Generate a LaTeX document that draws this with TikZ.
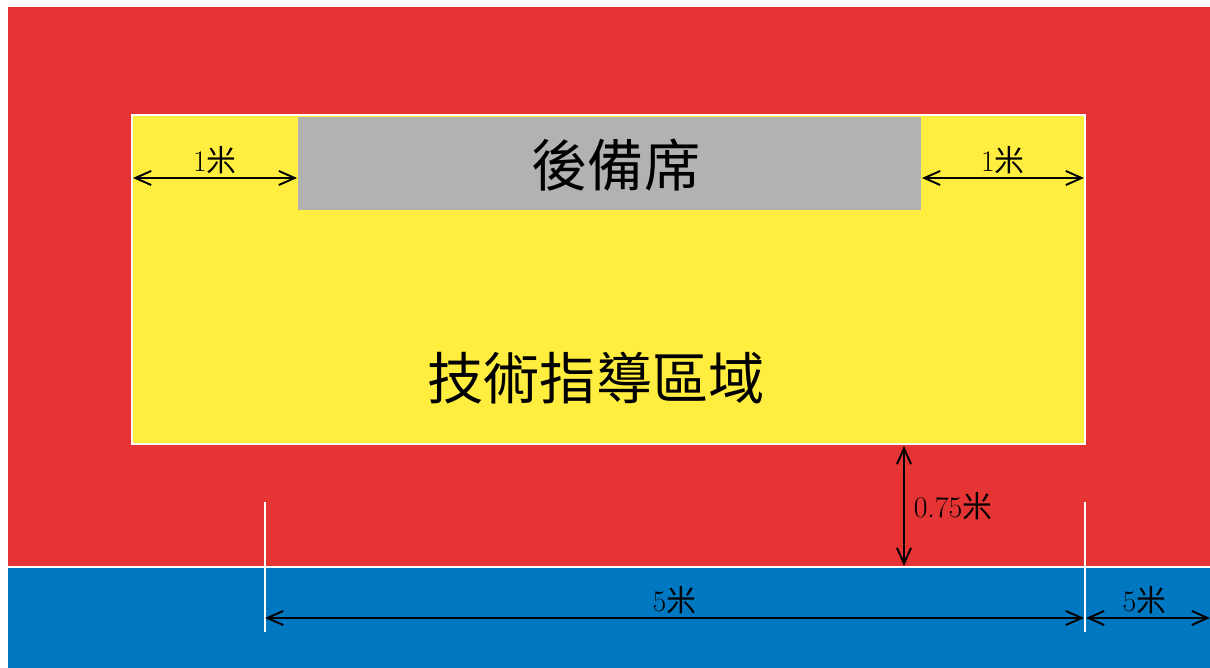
\documentclass[tikz,border=0pt]{standalone}
\usepackage{fontspec}
\newfontfamily\cjk{Noto Sans CJK TC}
\usetikzlibrary{arrows.meta}
\usetikzlibrary{positioning}
\definecolor{zonered}{RGB}{230,51,51}
\definecolor{zoneblue}{RGB}{0,120,193}
\definecolor{zoneyellow}{RGB}{255,238,64}
\definecolor{zonegray}{RGB}{178,178,177}
\tikzset{
area/.style={draw=none},
dim/.style={black,line width=1.1pt,{Straight Barb[length=9pt,width=8pt]}-{Straight Barb[length=9pt,width=8pt]}},
tick/.style={white,line width=1.5pt},
dimlabel/.style={font=\fontsize{17}{19}\selectfont,inner sep=2pt},
title/.style={font=\cjk\fontsize{32}{36}\selectfont}
}

\begin{document}
\begin{tikzpicture}[x=0.02cm,y=-0.02cm]
    \useasboundingbox (0,0) rectangle (1210,668);
    % zones
    \fill[zonered] (8,7) rectangle (1210,567);
    \fill[zoneblue] (8,567) rectangle (1210,668);
    \draw[white,line width=1.2pt] (8,567) -- (1210,567);
    \filldraw[zoneyellow,draw=white,line width=1.4pt] (132,115) rectangle (1085,444);
    \node[area,fill=zonegray,minimum width=12.46cm,minimum height=1.86cm,inner sep=0pt](bench) at (609.5,163.5) {};
    \node[title](bench-text) at (616,165) {後備席};
    \node[title](coach-text) at (596,378) {技術指導區域};
    %
    \coordinate (yl) at (133,178);
    \coordinate (bl) at (297,178);
    \coordinate (br) at (922,178);
    \coordinate (yr) at (1084,178);
    \coordinate (yb) at (904,446);
    \coordinate (lb) at (904,566);
    \coordinate (t1) at (265,618);
    \coordinate (t2) at (1084,618);
    \coordinate (t3) at (1086,618);
    \coordinate (t4) at (1210,618);
    %
    \foreach \x in {265,1085}
      \draw[tick] (\x,502) -- (\x,632);
    %
    \draw[dim] (yl) -- node[dimlabel,above]{1{\cjk 米}} (bl);
    \draw[dim] (br) -- node[dimlabel,above]{1{\cjk 米}} (yr);
    \draw[dim] (yb) -- node[dimlabel,right,xshift=3pt]{0.75{\cjk 米}} (lb);
    \draw[dim] (t1) -- node[dimlabel,above]{5{\cjk 米}} (t2);
    \draw[dim] (t3) -- node[dimlabel,above,xshift=-2pt]{5{\cjk 米}} (t4);
\end{tikzpicture}
\end{document}
